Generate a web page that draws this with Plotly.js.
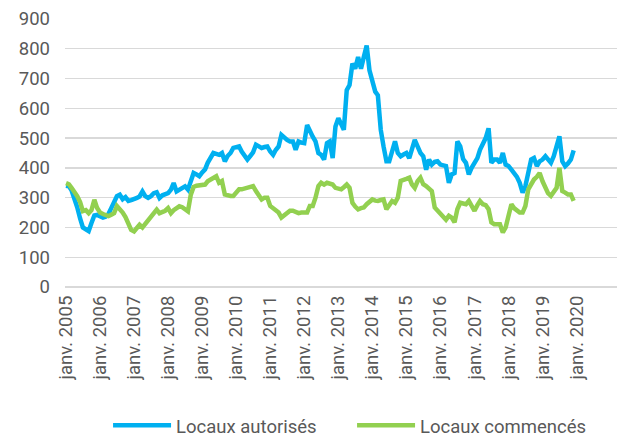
<!DOCTYPE html>
<html>
<head>
<meta charset="utf-8">
<script src="https://cdn.plot.ly/plotly-3.0.1.min.js"></script>
<style>
  html, body { margin: 0; padding: 0; background: #ffffff; }
  #chart { width: 621px; height: 437px; }
</style>
</head>
<body>
<div id="chart"></div>
<script>
// Monthly series, janv. 2005 -> déc. 2019
const startYear = 2005;
const autorises = [
  340, 338, 325, 300, 268, 230, 200, 194, 188, 215, 240, 242,
  238, 233, 236, 245, 265, 290, 305, 310, 295, 302, 289, 292,
  294, 299, 304, 321, 305, 299, 305, 315, 318, 299, 308, 312,
  315, 327, 349, 321, 328, 334, 338, 327, 355, 383, 378, 372,
  385, 395, 417, 435, 450, 447, 444, 450, 422, 440, 450, 467,
  470, 472, 455, 440, 428, 440, 452, 478, 470, 467, 470, 472,
  455, 444, 460, 472, 511, 500, 494, 489, 489, 461, 489, 485,
  483, 544, 522, 505, 489, 450, 444, 428, 483, 489, 433, 539,
  567, 545, 528, 661, 678, 750, 733, 772, 733, 772, 811, 728,
  689, 656, 644, 528, 472, 422, 422, 460, 489, 450, 439, 445,
  450, 433, 461, 494, 472, 450, 439, 394, 428, 411, 420, 422,
  411, 410, 406, 350, 378, 383, 489, 472, 430, 417, 378, 400,
  417, 433, 461, 478, 500, 533, 417, 428, 428, 417, 450, 411,
  406, 394, 383, 370, 350, 317, 339, 390, 428, 433, 406, 422,
  428, 439, 430, 417, 439, 470, 506, 422, 406, 415, 428, 459
];
const commences = [
  349, 345, 333, 320, 305, 285, 255, 258, 248, 258, 293, 265,
  250, 245, 240, 238, 243, 248, 272, 262, 250, 235, 215, 192,
  187, 200, 209, 200, 212, 222, 240, 250, 260, 248, 252, 256,
  265, 248, 258, 265, 271, 268, 262, 254, 310, 336, 340, 342,
  341, 344, 355, 361, 368, 372, 350, 356, 311, 308, 306, 306,
  320, 328, 328, 330, 333, 336, 339, 322, 305, 294, 300, 300,
  272, 265, 261, 250, 233, 240, 250, 256, 256, 252, 248, 250,
  250, 250, 272, 272, 300, 339, 350, 344, 350, 348, 344, 333,
  330, 328, 335, 344, 333, 283, 270, 261, 265, 267, 278, 285,
  294, 290, 289, 292, 294, 261, 275, 289, 283, 300, 356, 361,
  363, 367, 345, 333, 355, 367, 345, 339, 330, 322, 267, 256,
  245, 233, 226, 239, 233, 217, 261, 283, 280, 278, 289, 270,
  256, 275, 289, 278, 275, 261, 217, 211, 211, 211, 183, 200,
  239, 278, 265, 256, 250, 250, 272, 328, 345, 361, 370, 383,
  355, 333, 315, 306, 320, 333, 400, 322, 317, 311, 311, 289
];
const tickYears = [2005, 2006, 2007, 2008, 2009, 2010, 2011, 2012,
                   2013, 2014, 2015, 2016, 2017, 2018, 2019, 2020];
const tickLabels = tickYears.map(y => 'janv. ' + y);
const seriesNames = ['Locaux autorisés', 'Locaux commencés'];
const seriesColors = ['#00B0F0', '#92D050'];

const months = autorises.map((_, i) => {
  const y = startYear + Math.floor(i / 12);
  const m = (i % 12) + 1;
  return y + '-' + String(m).padStart(2, '0') + '-01';
});
const tickVals = tickYears.map(y => y + '-01-01');

const font = { family: 'Roboto, "Noto Sans", sans-serif', size: 18.5, color: '#595959' };

const traces = [autorises, commences].map((vals, k) => ({
  x: months,
  y: vals,
  type: 'scatter',
  mode: 'lines',
  name: seriesNames[k],
  line: { color: seriesColors[k], width: 4.5, shape: 'linear' },
  hoverinfo: 'skip'
}));

const layout = {
  width: 621,
  height: 437,
  margin: { l: 65, r: 4, t: 19, b: 150, autoexpand: false },
  paper_bgcolor: '#ffffff',
  plot_bgcolor: '#ffffff',
  font: font,
  showlegend: true,
  legend: {
    orientation: 'h',
    x: 0.078,
    xanchor: 'left',
    y: -0.518,
    yanchor: 'middle',
    font: font,
    itemwidth: 58,
    entrywidth: 171,
    entrywidthmode: 'pixels',
    bgcolor: 'rgba(0,0,0,0)'
  },
  xaxis: {
    type: 'date',
    range: ['2004-12-21', '2021-03-10'],
    tickmode: 'array',
    tickvals: tickVals,
    ticktext: tickLabels,
    tickangle: -90,
    showgrid: false,
    zeroline: false,
    showline: false,
    ticks: '',
    tickfont: font,
    ticklabelstandoff: 4,
    automargin: false,
    fixedrange: true
  },
  yaxis: {
    range: [0, 900],
    dtick: 100,
    tick0: 0,
    showgrid: true,
    gridcolor: '#D9D9D9',
    gridwidth: 1.3,
    zeroline: true,
    zerolinecolor: '#D9D9D9',
    zerolinewidth: 1.3,
    showline: false,
    ticks: '',
    tickfont: font,
    ticklabelstandoff: 14,
    automargin: false,
    fixedrange: true
  }
};

Plotly.newPlot('chart', traces, layout, { staticPlot: true, displayModeBar: false });
</script>
</body>
</html>
